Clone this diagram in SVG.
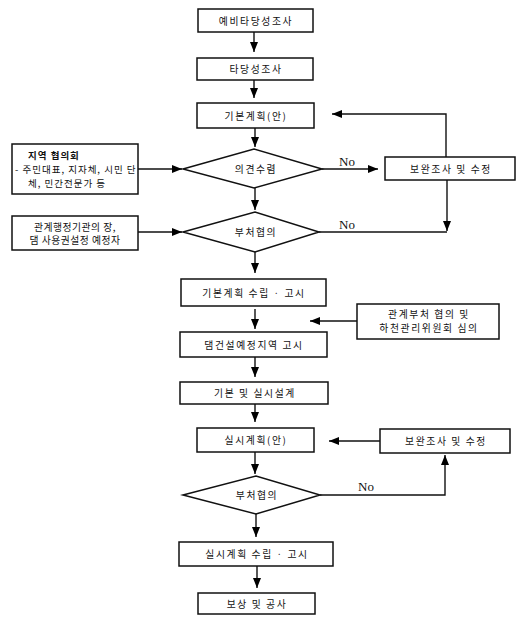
<svg xmlns="http://www.w3.org/2000/svg" width="527" height="619" viewBox="0 0 527 619">
<defs>
<marker id="ah" markerUnits="userSpaceOnUse" markerWidth="10" markerHeight="10" viewBox="0 0 10 10" refX="10" refY="5" orient="auto">
<path d="M0,1 L10,5 L0,9 Z" fill="#000"/>
</marker>
<style>
.box{fill:#fff;stroke:#111;stroke-width:1.5}
.t{font-family:"Noto Sans CJK KR","Noto Sans",sans-serif;font-size:9.8px;fill:#111;text-anchor:middle;dominant-baseline:central;letter-spacing:1.6px}
.tl{font-family:"Noto Sans CJK KR","Noto Sans",sans-serif;font-size:9.5px;fill:#111;dominant-baseline:central;letter-spacing:1px}
.b{font-weight:bold}
.c{fill:none;stroke:#111;stroke-width:1.4}
.a{marker-end:url(#ah)}
.no{font-family:"Liberation Serif",serif;font-size:13px;fill:#111}
</style>
</defs>
<rect width="527" height="619" fill="#fff"/>
<g id="connectors">
<path class="c a" d="M254,32 V52"/>
<path class="c a" d="M254,80 V98"/>
<path class="c a" d="M446,157 V114 H332"/>
<path class="c a" d="M255,128 V147"/>
<path class="c a" d="M138,169 H182"/>
<path class="c a" d="M322,169 H378"/>
<text class="no" x="339" y="166">No</text>
<path class="c a" d="M447,180 V231"/>
<path class="c" d="M319,232 H447"/>
<text class="no" x="339" y="229">No</text>
<path class="c a" d="M138,232 H182"/>
<path class="c a" d="M255,188 V210"/>
<path class="c a" d="M255,252 V273"/>
<path class="c a" d="M255,309 V329"/>
<path class="c a" d="M357,321 H310"/>
<path class="c a" d="M255,357 V377"/>
<path class="c a" d="M255,404 V422"/>
<path class="c a" d="M380,441 H329"/>
<path class="c a" d="M255,452 V474"/>
<path class="c a" d="M320,495 H445 V455"/>
<text class="no" x="358" y="491">No</text>
<path class="c a" d="M256,514 V537"/>
<path class="c a" d="M257,566 V588"/>
</g>
<g id="n1"><rect class="box" x="198" y="9" width="115" height="23"/><text class="t" x="256" y="20.5">예비타당성조사</text></g>
<g id="n2"><rect class="box" x="197" y="58" width="116" height="22"/><text class="t" x="256" y="69">타당성조사</text></g>
<g id="n3"><rect class="box" x="197" y="103" width="117" height="25"/><text class="t" x="256" y="115.5">기본계획(안)</text></g>
<g id="d1"><polygon class="box" points="183,169 254,149 322,169 254,188"/><text class="t" x="256" y="169">의견수렴</text></g>
<g id="r1"><rect class="box" x="385" y="157" width="130" height="23"/><text class="t" x="451" y="168.5">보완조사 및 수정</text></g>
<g id="l1"><rect class="box" x="12" y="144" width="126" height="50"/>
<text class="tl b" x="28" y="155">지역 협의회</text>
<text class="tl" x="15" y="169">- 주민대표, 지자체, 시민 단</text>
<text class="tl" x="28" y="183">체, 민간전문가 등</text></g>
<g id="d2"><polygon class="box" points="183,232 255,212 319,232 255,252"/><text class="t" x="256" y="232">부처협의</text></g>
<g id="l2"><rect class="box" x="12" y="216" width="126" height="34"/>
<text class="t" x="75" y="227" style="letter-spacing:0.5px">관계행정기관의 장,</text>
<text class="t" x="75" y="240" style="letter-spacing:0.5px">댐 사용권설정 예정자</text></g>
<g id="n4"><rect class="box" x="181" y="279" width="145" height="27"/><text class="t" x="254" y="292.5">기본계획 수립 · 고시</text></g>
<g id="r2"><rect class="box" x="357" y="304" width="142" height="35"/>
<text class="t" x="429" y="314">관계부처 협의 및</text>
<text class="t" x="429" y="328">하천관리위원회 심의</text></g>
<g id="n5"><rect class="box" x="180" y="332" width="147" height="25"/><text class="t" x="254" y="344.5">댐건설예정지역 고시</text></g>
<g id="n6"><rect class="box" x="180" y="382" width="148" height="22"/><text class="t" x="255" y="393">기본 및 실시설계</text></g>
<g id="n7"><rect class="box" x="197" y="428" width="117" height="24"/><text class="t" x="256" y="440">실시계획(안)</text></g>
<g id="r3"><rect class="box" x="380" y="429" width="130" height="24"/><text class="t" x="446" y="441">보완조사 및 수정</text></g>
<g id="d3"><polygon class="box" points="183,495 256,476 320,495 256,514"/><text class="t" x="257" y="495">부처협의</text></g>
<g id="n8"><rect class="box" x="179" y="542" width="154" height="24"/><text class="t" x="257" y="554">실시계획 수립 · 고시</text></g>
<g id="n9"><rect class="box" x="198" y="593" width="117" height="21"/><text class="t" x="257" y="603.5">보상 및 공사</text></g>
</svg>
